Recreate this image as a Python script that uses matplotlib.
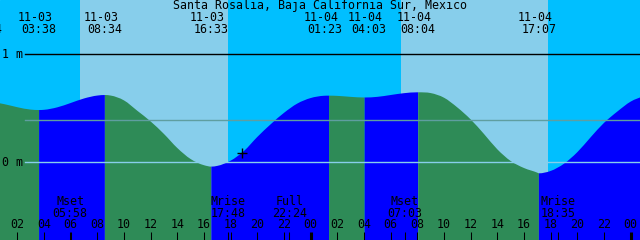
import numpy as np
import matplotlib
matplotlib.use('Agg')
from matplotlib import pyplot as plt
from matplotlib.path import Path
from matplotlib.patches import PathPatch

# tide level (m), one reading per hour from 11-03 00:00
hours = list(range(0, 50))
level = [0.558, 0.539, 0.510, 0.488, 0.486, 0.509, 0.549, 0.591, 0.618, 0.618,
         0.573, 0.477, 0.378, 0.262, 0.132, 0.030, -0.027, -0.033, 0.015, 0.105,
         0.235, 0.352, 0.458, 0.544, 0.595, 0.616, 0.615, 0.606, 0.600, 0.606,
         0.623, 0.640, 0.648, 0.641, 0.598, 0.508, 0.397, 0.262, 0.120, 0.012,
         -0.053, -0.096, -0.080, -0.013, 0.094, 0.232, 0.365, 0.470, 0.562, 0.615]

tide_dates = ['11-02', '11-03', '11-03', '11-03', '11-04', '11-04', '11-04', '11-04']
tide_times = ['23:34', '03:38', '08:34', '16:33', '01:23', '04:03', '08:04', '17:07']
tide_levels = [0.56, 0.484, 0.623, -0.04, 0.617, 0.60, 0.648, -0.102]

moon_names = ['Mset', 'Mrise', 'Full', 'Mset', 'Mrise']
moon_dates = ['11-03', '11-03', '11-03', '11-04', '11-04']
moon_times = ['05:58', '17:48', '22:24', '07:03', '18:35']

sunrise = ['11-03 06:42', '11-04 06:45']
sunset = ['11-03 17:48', '11-04 17:47']

now = '11-03 18:52'
now_level = 0.088

title = 'Santa Rosalia, Baja California Sur, Mexico'

night_col = '#00BFFF'
day_col = '#87CEEB'
fall_col = '#2E8B57'
rise_col = '#0000FF'


def to_hours(stamp):
    d, t = stamp.split()
    hh, mm = t.split(':')
    return (int(d[3:5]) - 3) * 24 + int(hh) + int(mm) / 60


tide_hours = [to_hours(d + ' ' + t) for d, t in zip(tide_dates, tide_times)]
moon_hours = [to_hours(d + ' ' + t) for d, t in zip(moon_dates, moon_times)]

W, H = 640, 240
px_per_hour = W / 48
t_left = 0.7
t_right = t_left + 48
y0 = 162.3      # pixel row of 0 m
px_per_m = 108
h_top = y0 / px_per_m
h_bot = (y0 - H) / px_per_m

fig = plt.figure(figsize=(6.4, 2.4), dpi=100)
ax = fig.add_axes([0, 0, 1, 1])
ax.set_xlim(t_left, t_right)
ax.set_ylim(h_bot, h_top)
ax.axis('off')
ax.add_patch(plt.Rectangle((t_left, h_bot), 48, h_top - h_bot, color=night_col, zorder=0))
for r, s in zip(sunrise, sunset):
    ax.axvspan(to_hours(r), to_hours(s), color=day_col, lw=0, zorder=0.5)

# hourly readings plus the extremes, joined by smooth bezier pieces
t_all = np.array(hours + tide_hours, dtype=float)
h_all = np.array(level + tide_levels, dtype=float)
is_ext = np.array([False] * len(hours) + [True] * len(tide_hours))
order = np.argsort(t_all)
t_all, h_all, is_ext = t_all[order], h_all[order], is_ext[order]

slope = np.gradient(h_all, t_all)
slope[is_ext] = 0.0


def area_path(i0, i1):
    verts = [(t_all[i0], h_bot), (t_all[i0], h_all[i0])]
    codes = [Path.MOVETO, Path.LINETO]
    for k in range(i0, i1):
        dt = t_all[k + 1] - t_all[k]
        verts += [(t_all[k] + dt / 3, h_all[k] + slope[k] * dt / 3),
                  (t_all[k + 1] - dt / 3, h_all[k + 1] - slope[k + 1] * dt / 3),
                  (t_all[k + 1], h_all[k + 1])]
        codes += [Path.CURVE4] * 3
    verts += [(t_all[i1], h_bot), (t_all[i0], h_bot)]
    codes += [Path.LINETO, Path.CLOSEPOLY]
    return Path(verts, codes)


ext_idx = list(np.where(is_ext)[0]) + [len(t_all) - 1]
for i in range(len(ext_idx) - 1):
    if i + 1 < len(tide_levels):
        falling = tide_levels[i] > tide_levels[i + 1]
    else:
        falling = False
    ax.add_patch(PathPatch(area_path(ext_idx[i], ext_idx[i + 1]),
                           facecolor=fall_col if falling else rise_col, lw=0, zorder=1))

xa = ax.get_xaxis_transform()
x_start = 25 / W
ax.axhline(1.0, xmin=x_start, color='black', lw=1.0, zorder=2)
ax.axhline(0.389, xmin=x_start, color='#5F9EA0', lw=1.0, zorder=2)
ax.axhline(0.0, xmin=x_start, color=day_col, lw=1.0, zorder=2)

ax.plot(to_hours(now), now_level, marker='+', ms=7, mew=1.0, color='black', zorder=4)

font = dict(family='DejaVu Sans Mono', fontsize=8.4, color='black', ha='center', va='center',
            zorder=5)


def ypos(py):
    return 1 - py / H


fig.text(0.5, ypos(5.5), title, **font)
ax.text(t_left + 2 / px_per_hour, 1.0, '1 m', **{**font, 'ha': 'left'})
ax.text(t_left + 2 / px_per_hour, 0.0, '0 m', **{**font, 'ha': 'left'})

# crowded labels get pushed apart a little (pixels)
nudge = {'01:23': -4.3, '04:03': 4.5}
for d, t, th in zip(tide_dates, tide_times, tide_hours):
    x = th + nudge.get(t, 0) / px_per_hour
    if x - 4 / px_per_hour > t_left:
        ax.text(x - 4 / px_per_hour, ypos(17.3), d, transform=xa, clip_on=False, **font)
    ax.text(x, ypos(29.3), t, transform=xa, clip_on=False, **font)

for name, t, mh in zip(moon_names, moon_times, moon_hours):
    ax.text(mh, ypos(201.7), name, transform=xa, **font)
    ax.text(mh, ypos(213.3), t, transform=xa, **font)

tick_len = 8 / H
for hr in range(2, 49, 2):
    ax.text(hr, ypos(225), '%02d' % (hr % 24), transform=xa, **font)
    ax.vlines(hr, 0, tick_len, transform=xa, color='black',
              lw=2.2 if hr % 24 == 0 else 0.75, zorder=3)
ax.vlines(moon_hours, 0, tick_len, transform=xa, color='black', lw=0.75, zorder=3)

fig.savefig('out.png', dpi=100)
